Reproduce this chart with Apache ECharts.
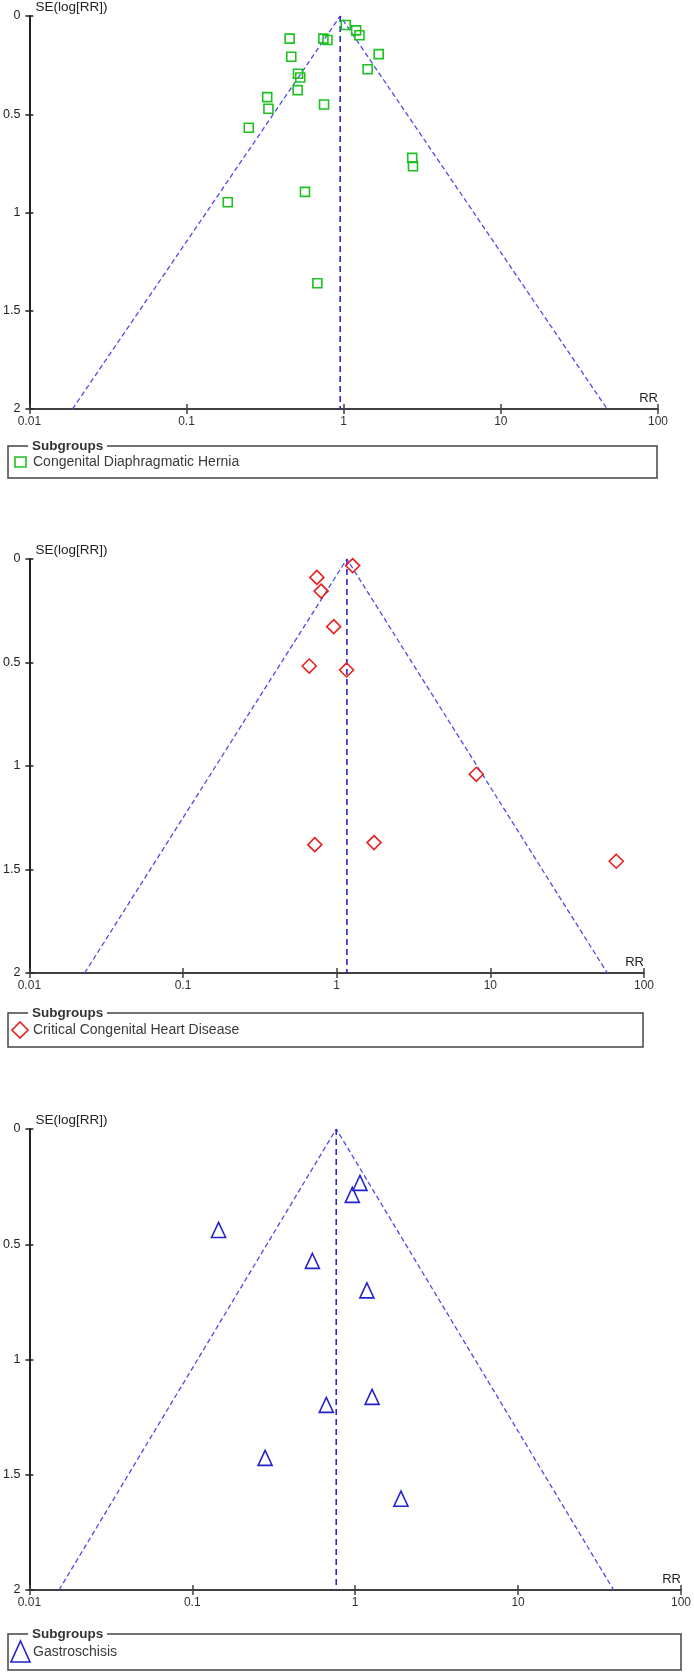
<!DOCTYPE html>
<html>
<head>
<meta charset="utf-8">
<script src="https://cdn.jsdelivr.net/npm/echarts@6/dist/echarts.min.js"></script>
<style>
html, body { margin: 0; padding: 0; background: #fff; }
#main { width: 694px; height: 1672px; }
</style>
</head>
<body>
<div id="main"></div>
<script>
// Congenital Diaphragmatic Hernia
var cdhRR = [0.453, 0.464, 0.512, 0.529, 0.509, 0.326, 0.332, 0.249, 0.75, 0.743, 0.789, 0.183, 0.567, 1.03, 1.2, 1.26, 1.67, 1.42, 2.73, 2.76, 0.68];
var cdhSE = [0.115, 0.207, 0.294, 0.313, 0.377, 0.413, 0.472, 0.569, 0.45, 0.115, 0.122, 0.948, 0.895, 0.046, 0.073, 0.098, 0.194, 0.271, 0.722, 0.765, 1.36];

// Critical Congenital Heart Disease
var cchdRR = [0.743, 0.792, 0.956, 0.663, 1.16, 1.27, 0.72, 1.75, 8.1, 66];
var cchdSE = [0.089, 0.155, 0.327, 0.517, 0.536, 0.032, 1.38, 1.37, 1.04, 1.46];

// Gastroschisis
var gasRR = [0.145, 0.546, 1.07, 0.96, 1.18, 0.665, 1.27, 0.28, 1.91];
var gasSE = [0.438, 0.572, 0.234, 0.286, 0.70, 1.197, 1.162, 1.427, 1.604];

var subgroupNames = ['Congenital Diaphragmatic Hernia', 'Critical Congenital Heart Disease', 'Gastroschisis'];
var pooledRR = [0.95, 1.165, 0.765];
var funnelLowRR = [0.0188, 0.0229, 0.0152];
var funnelHighRR = [47.5, 57.7, 38.6];
var seTop = 0, seBottom = 2;

var allRR = [cdhRR, cchdRR, gasRR];
var allSE = [cdhSE, cchdSE, gasSE];

// layout of the three panels
var grids = [
    { left: 26, top: 15, width: 632, height: 394 },
    { left: 24, top: 559, width: 620, height: 414 },
    { left: 28, top: 1129, width: 654, height: 461 }
];
var legendBoxes = [
    { x: 8, y: 446, w: 649, h: 32 },
    { x: 8, y: 1013, w: 635, h: 34 },
    { x: 8, y: 1634, w: 673, h: 36 }
];
var markers = [
    { symbol: 'rect', size: [9, 9], color: '#1ec21e' },
    { symbol: 'diamond', size: [14, 14], color: '#e82020' },
    { symbol: 'triangle', size: [14, 15], color: '#2222cc' }
];

var font = 'Liberation Sans, Arial, sans-serif';
var axisColor = '#404040';

var xAxes = [], yAxes = [], series = [], graphics = [];

grids.forEach(function (g, i) {
    // main x axis
    xAxes.push({
        type: 'log', logBase: 10, min: 0.01, max: 100, gridIndex: i, position: 'bottom',
        name: 'RR', nameLocation: 'end', nameGap: 0,
        nameTextStyle: { align: 'right', verticalAlign: 'bottom', padding: [0, 0, 4, 0], fontSize: 13, color: '#222', fontFamily: font },
        axisLine: { onZero: false, lineStyle: { color: axisColor, width: 2 } },
        axisTick: { length: 5, lineStyle: { color: axisColor, width: 1.5 } },
        axisLabel: { fontSize: 12, color: '#333', margin: 7, fontFamily: font },
        splitLine: { show: false }
    });
    // second x axis only for the inner half of the ticks
    xAxes.push({
        type: 'log', logBase: 10, min: 0.01, max: 100, gridIndex: i, position: 'bottom',
        axisLine: { show: false, onZero: false },
        axisTick: { inside: true, length: 5, lineStyle: { color: axisColor, width: 1.5 } },
        axisLabel: { show: false },
        splitLine: { show: false }
    });
    yAxes.push({
        type: 'value', inverse: true, min: seTop, max: seBottom, interval: 0.5, gridIndex: i, position: 'left',
        name: 'SE(log[RR])', nameLocation: 'start', nameGap: 2,
        nameTextStyle: { align: 'left', verticalAlign: 'bottom', padding: [0, 0, 0, 6], fontSize: 13.5, color: '#222', fontFamily: font },
        axisLine: { show: true, onZero: false, lineStyle: { color: '#222', width: 2 } },
        axisTick: { show: true, length: 4, lineStyle: { color: '#222', width: 1.5 } },
        axisLabel: { fontSize: 12.5, color: '#222', margin: 9, fontFamily: font },
        splitLine: { show: false }
    });
    yAxes.push({
        type: 'value', inverse: true, min: seTop, max: seBottom, interval: 0.5, gridIndex: i, position: 'left',
        axisLine: { show: false, onZero: false },
        axisTick: { show: true, inside: true, length: 4, lineStyle: { color: '#222', width: 1.5 } },
        axisLabel: { show: false },
        splitLine: { show: false }
    });

    var xi = 2 * i, yi = 2 * i;
    series.push({
        type: 'line', xAxisIndex: xi, yAxisIndex: yi, symbol: 'none', silent: true, z: 1,
        data: [[funnelLowRR[i], seBottom], [pooledRR[i], seTop], [funnelHighRR[i], seBottom]],
        lineStyle: { color: '#4c4ce8', width: 1.3, type: [5, 3] }
    });
    series.push({
        type: 'line', xAxisIndex: xi, yAxisIndex: yi, symbol: 'none', silent: true, z: 1,
        data: [[pooledRR[i], seTop], [pooledRR[i], seBottom]],
        lineStyle: { color: '#2626d6', width: 1.6, type: [6, 4] }
    });
    var m = markers[i];
    series.push({
        type: 'scatter', name: subgroupNames[i], xAxisIndex: xi, yAxisIndex: yi, z: 3,
        symbol: m.symbol, symbolSize: m.size,
        itemStyle: { color: 'rgba(0,0,0,0)', borderColor: m.color, borderWidth: 1.6, opacity: 1 },
        data: allRR[i].map(function (r, k) { return [r, allSE[i][k]]; })
    });

    // legend box "Subgroups"
    var b = legendBoxes[i];
    var cy = b.y + b.h / 2;
    graphics.push({
        type: 'rect', shape: { x: b.x, y: b.y, width: b.w, height: b.h },
        style: { fill: 'none', stroke: '#444', lineWidth: 1.5 }
    });
    graphics.push({
        type: 'rect', shape: { x: 28, y: b.y - 3, width: 79, height: 6 },
        style: { fill: '#fff' }
    });
    graphics.push({
        type: 'text', x: 32, y: b.y,
        style: { text: 'Subgroups', fontFamily: font, fontSize: 13.5, fontWeight: 'bold', fill: '#333', textVerticalAlign: 'middle' }
    });
    var shape;
    if (i === 0) {
        shape = { type: 'rect', shape: { x: 15, y: cy - 5, width: 11, height: 10 } };
    } else if (i === 1) {
        shape = { type: 'polygon', shape: { points: [[20, cy - 8], [28, cy], [20, cy + 8], [12, cy]] } };
    } else {
        shape = { type: 'polygon', shape: { points: [[20.5, cy - 11], [30, cy + 10], [11, cy + 10]] } };
    }
    shape.style = { fill: 'none', stroke: m.color, lineWidth: 1.6 };
    graphics.push(shape);
    graphics.push({
        type: 'text', x: 33, y: cy,
        style: { text: subgroupNames[i], fontFamily: font, fontSize: 14, fill: '#3a3a3a', textVerticalAlign: 'middle' }
    });
});

var option = {
    backgroundColor: '#fff',
    animation: false,
    grid: grids,
    xAxis: xAxes,
    yAxis: yAxes,
    series: series,
    graphic: graphics
};

var myChart = echarts.init(document.getElementById('main'));
myChart.setOption(option);
</script>
</body>
</html>
